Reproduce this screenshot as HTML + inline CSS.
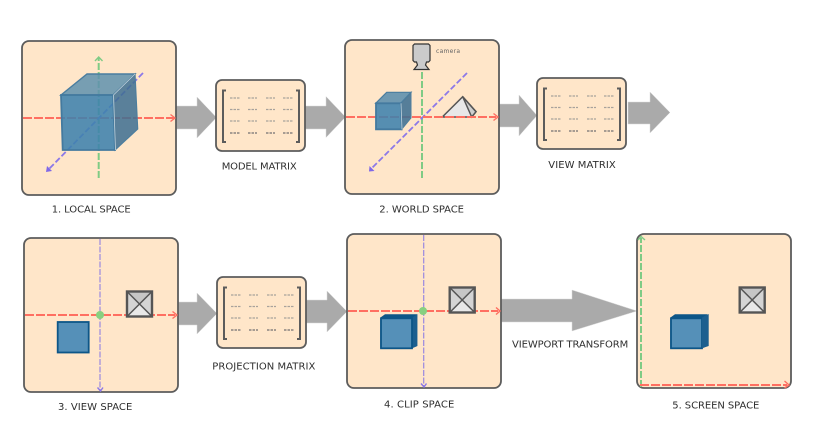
<!DOCTYPE html>
<html><head><meta charset="utf-8"><style>
html,body{margin:0;padding:0;background:#fff}
svg{display:block}
text{font-family:"DejaVu Sans","Liberation Sans",sans-serif;font-size:10px;fill:#2e2e2e}
.p{fill:#ffe6c9;stroke:#5c5c5c;stroke-width:1.8}
.a{fill:#aaa;stroke:#d8d8d8;stroke-width:.5}
.r{stroke:#ff6f61;stroke-width:2;stroke-dasharray:9 2;fill:none}
.g{stroke:#7fcb85;stroke-width:2;stroke-dasharray:7 2;fill:none}
.v{stroke:#8c78e8;stroke-width:1.8;stroke-dasharray:6 2.5;fill:none}
.vt{stroke:#9a88e0;stroke-width:1.2;stroke-dasharray:6 1.5;fill:none}
.ah{fill:none;stroke-width:1.4}
</style></head><body>
<svg width="833" height="438" viewBox="0 0 833 438" xmlns="http://www.w3.org/2000/svg">
<defs>
<g id="m">
<rect class="p" x="0" y="0" width="89" height="71" rx="6"/>
<path d="M10 10.500H7V62H10M80 10.500H83V62H80" fill="none" stroke="#5c5c5c" stroke-width="2"/>
<g stroke="#a8a29c" stroke-width="1.300" stroke-dasharray="2.500 1" fill="none">
<path d="M14 18h10M32 18h9M50 18h9M67 18h10"/>
<path d="M14 29.500h10M32 29.500h9M50 29.500h9M67 29.500h10"/>
<path d="M14 41h10M32 41h9M50 41h9M67 41h10"/>
</g>
<path d="M14 53h10M32 53h9M50 53h9M67 53h10" stroke="#8a8480" stroke-width="1.500" stroke-dasharray="2.500 1" fill="none"/>
</g>
<g id="py">
<rect x="0" y="0" width="25" height="25" fill="#d4d4d4"/>
<path d="M0 0H25L12.500 12.500Z" fill="#c6c6c6"/>
<path d="M0 25H25L12.500 12.500Z" fill="#e8e8e8"/>
<path d="M0 0L25 25M25 0L0 25" stroke="#555" stroke-width="1.500"/>
<rect x="0" y="0" width="25" height="25" fill="none" stroke="#555" stroke-width="2.400"/>
</g>
<g id="cb">
<path d="M0 3.300L4.700 0H37V31.700L31.700 34H0Z" fill="#0d5688"/>
<path d="M31.700 3.300L37 0V31.700L31.700 34Z" fill="#1c5f8f"/>
<rect x="0.700" y="4" width="31" height="30" fill="#5590b8" stroke="#0d5688" stroke-width="1.800"/>
</g>
</defs>

<!-- arrows -->
<path class="a" d="M176 106H197V97L216.500 117.500L197 138V129H176Z"/>
<path class="a" d="M305 106H326V96.500L345.500 117L326 137.500V129H305Z"/>
<path class="a" d="M499 104H519V95L537 115.500L519 136V127H499Z"/>
<path class="a" d="M628 102H650V92L670 112.500L650 133V124H628Z"/>
<path class="a" d="M178 302H197V293L217 313.500L197 334V325H178Z"/>
<path class="a" d="M306 300H327V291L347 311.500L327 332V323H306Z"/>
<path class="a" d="M501 299H572V290L637 311L572 331V322H501Z"/>

<!-- panel 1 -->
<rect class="p" x="22" y="41" width="154" height="154" rx="7"/>
<path class="r" d="M23 118H174"/><path class="ah" stroke="#ff6f61" d="M170.500 114.500L175 118L170.500 121.500"/>
<path class="g" d="M98.700 178V58"/><path class="ah" stroke="#7fcb85" d="M95 61L98.700 57L102.500 61"/>
<path class="v" d="M143 73L49 169"/><path d="M46 172L47 166L52 171Z" fill="#7f68e8"/>
<path d="M61 95L87 74H135L113 95Z" fill="#5f90ae" fill-opacity=".85" stroke="#4a7d9f" stroke-width="1.400"/>
<path d="M113 95L135 74L137.700 129L115 150Z" fill="#3f6f92" fill-opacity=".86" stroke="#4d7e9e" stroke-width="1.200"/>
<path d="M61 95H113L115 150H62.700Z" fill="#3f82ad" fill-opacity=".88" stroke="#447a9f" stroke-width="1.800"/>
<path d="M113.500 95L115.500 150M113.500 95L135 74" stroke="#c4d3db" stroke-width=".8" fill="none"/>

<use href="#m" x="216" y="80"/>

<!-- panel 2 -->
<rect class="p" x="345" y="40" width="154" height="154" rx="7"/>
<path class="g" d="M422 178V69"/>
<path class="v" d="M467 73L371 169"/><path d="M369 171.500L369.500 166L374.500 171Z" fill="#7f68e8"/>
<path d="M442.300 117L462.700 96.700L476 111.700L471.700 117Z" fill="#e8e8e8" stroke="#555" stroke-width="1.500"/>
<path d="M462.700 96.700L471.700 117L476 111.700Z" fill="#cfcfcf" stroke="#555" stroke-width="1.500"/>
<path class="r" d="M346 117H496"/><path class="ah" stroke="#ff6f61" d="M493.500 113.500L498 117L493.500 120.500"/>
<path d="M375.700 103.300L386.700 92.300H411L400.700 103.300Z" fill="#5f90ae" fill-opacity=".9" stroke="#4a7d9f" stroke-width="1.200"/>
<path d="M400.700 103.300L411 92.300V118L401.700 129.300Z" fill="#3f6f92" fill-opacity=".88" stroke="#4d7e9e"/>
<path d="M376 103.300H400.700L401.700 129.300H376Z" fill="#3f82ad" fill-opacity=".88" stroke="#447a9f" stroke-width="1.800"/>
<path d="M401 103.300L402 129.300" stroke="#c4d3db" stroke-width=".8"/>
<path d="M414.500 44H428.500L430 45.500V60.500L428.500 62H426.500L425.500 65L429 69.500H414L417.500 65L416.500 62H414.500L413 60.500V45.500Z" fill="#cbcbcb" stroke="#333" stroke-width="1.200"/>
<text x="436" y="53" style="font-size:6px;fill:#666" textLength="24">camera</text>

<use href="#m" x="537" y="78"/>

<!-- panel 3 -->
<rect class="p" x="24" y="238" width="154" height="154" rx="7"/>
<path class="vt" d="M100 239V390"/><path class="ah" stroke="#8c78e8" stroke-width="1" d="M97.500 387.500L100.500 391L103 387.500"/>
<path class="r" d="M25 315H175"/><path class="ah" stroke="#ff6f61" d="M172.500 311.500L177 315L172.500 318.500"/>
<circle cx="100" cy="315" r="4" fill="#88d080"/>
<rect x="57.700" y="322" width="31" height="30.500" fill="#5590b8" stroke="#0d5688" stroke-width="1.800"/>
<use href="#py" x="127" y="291.500"/>

<use href="#m" x="217" y="277"/>

<!-- panel 4 -->
<rect class="p" x="347" y="234" width="154" height="154" rx="7"/>
<path class="vt" d="M423.700 235V386"/><path class="ah" stroke="#8c78e8" stroke-width="1" d="M421 383.500L424 387L426.500 383.500"/>
<path class="r" d="M348 311H498"/><path class="ah" stroke="#ff6f61" d="M496 307.500L500 311L496 314.500"/>
<circle cx="423" cy="311" r="4" fill="#88d080"/>
<use href="#py" x="449.700" y="287.500"/>
<use href="#cb" x="380.300" y="314.300"/>

<!-- panel 5 -->
<rect class="p" x="637" y="234" width="154" height="154" rx="7"/>
<path class="g" d="M641 387V238"/><path class="ah" stroke="#7fcb85" d="M638 240L641 236.500L645 240"/>
<path class="r" d="M640 385H787"/><path class="ah" stroke="#ff6f61" d="M784.500 381L789 385L784.500 388"/>
<use href="#py" x="739.700" y="287.500"/>
<use href="#cb" x="670.300" y="314.300"/>
<path d="M702 317.600L708.700 314V346L702 348.300Z" fill="#1c5f8f"/>

<!-- labels -->
<text x="51.700" y="212.700" textLength="79">1. LOCAL SPACE</text>
<text x="221.700" y="169.300" textLength="75">MODEL MATRIX</text>
<text x="379.300" y="212.300" textLength="84.700">2. WORLD SPACE</text>
<text x="548.300" y="168" textLength="67.400">VIEW MATRIX</text>
<text x="58" y="410" textLength="74.300">3. VIEW SPACE</text>
<text x="212.300" y="369.700" textLength="103">PROJECTION MATRIX</text>
<text x="384" y="407.700" textLength="70.300">4. CLIP SPACE</text>
<text x="512" y="347.300" textLength="116.300">VIEWPORT TRANSFORM</text>
<text x="672.300" y="408.300" textLength="87">5. SCREEN SPACE</text>
</svg>
</body></html>
